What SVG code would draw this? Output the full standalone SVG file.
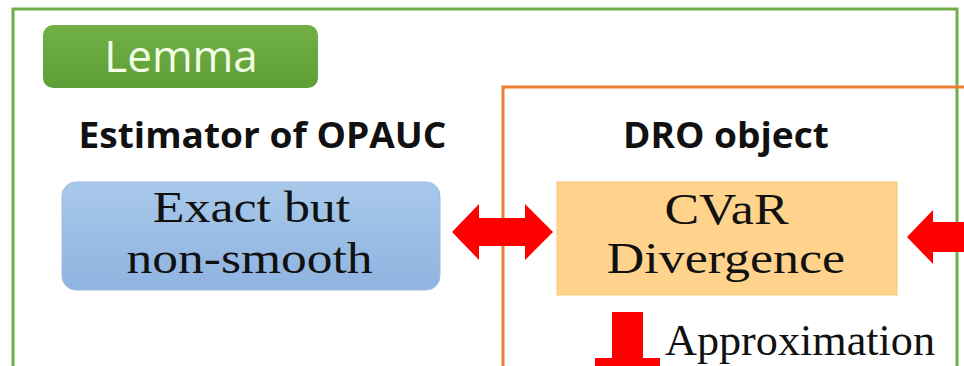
<svg xmlns="http://www.w3.org/2000/svg" width="964" height="366" viewBox="0 0 964 366">
<style>
.hdr{font-family:"Open Sans","Liberation Sans",sans-serif;font-weight:bold;font-size:35px;fill:#111;text-anchor:middle}
.big{font-family:"Liberation Serif",serif;font-size:44px;fill:#111;text-anchor:middle}
.arrow{fill:#FF0000}
</style>
<defs>
<linearGradient id="gGreen" x1="0" y1="0" x2="0" y2="1"><stop offset="0" stop-color="#72b046"/><stop offset="1" stop-color="#5e9e36"/></linearGradient>
<linearGradient id="gBlue" x1="0" y1="0" x2="0" y2="1"><stop offset="0" stop-color="#a8c9ea"/><stop offset="1" stop-color="#8fb3e0"/></linearGradient>
</defs>
<rect width="964" height="366" fill="#ffffff"/>
<g id="frame">
<path d="M13 366 V9 H957 V366" fill="none" stroke="#70AD47" stroke-width="3"/>
</g>
<g id="lemma">
<rect x="43" y="25" width="275" height="63" rx="10" fill="url(#gGreen)"/>
<text x="181" y="72" font-family="Open Sans, Liberation Sans, sans-serif" font-size="44" fill="#f2ffe6" text-anchor="middle">Lemma</text>
</g>
<g id="dro-frame">
<path d="M964 87 H503 V366" fill="none" stroke="#ED7D31" stroke-width="3"/>
</g>
<g id="estimator">
<text class="hdr" transform="translate(262.5,148) scale(1.06,1)">Estimator of OPAUC</text>
<rect x="62" y="182" width="378" height="108" rx="14" fill="url(#gBlue)" stroke="#9dbde3" stroke-width="1"/>
<text class="big" transform="translate(251.5,222) scale(1.18,1)">Exact but</text>
<text class="big" transform="translate(249.5,273) scale(1.17,1)">non-smooth</text>
</g>
<g id="dro">
<text class="hdr" transform="translate(726,148) scale(1.06,1)">DRO object</text>
<rect x="557" y="182" width="340" height="113" fill="#FFD38C" stroke="#f5c878" stroke-width="1"/>
<text class="big" transform="translate(726.5,224) scale(1.18,1)">CVaR</text>
<text class="big" transform="translate(726,273) scale(1.18,1)">Divergence</text>
</g>
<g id="connectors">
<polygon class="arrow" points="452,232 479,204 479,218 525,218 525,204 553,232 525,260 525,246 479,246 479,260"/>
<polygon class="arrow" points="907,237 933,210 933,222 964,222 964,252 933,252 933,264"/>
<polygon class="arrow" points="612,312 643,312 643,358 660,358 660,366 595,366 595,358 612,358"/>
<text x="665" y="355" font-family="Liberation Serif, serif" font-size="44" fill="#111" textLength="270" lengthAdjust="spacingAndGlyphs">Approximation</text>
</g>
</svg>
